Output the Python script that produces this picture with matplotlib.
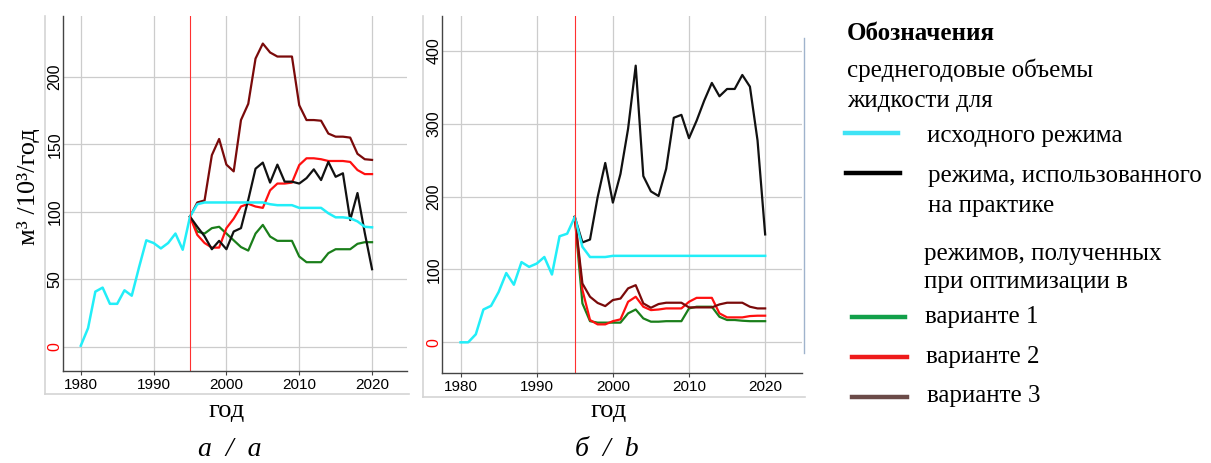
import matplotlib
matplotlib.use("Agg")
import matplotlib.pyplot as plt
from matplotlib.lines import Line2D
import numpy as np

W, H = 1211, 463

# годы
years_base = np.arange(1980, 2021)
years_opt = np.arange(1995, 2021)

# а: исходный режим, практика, варианты 1-3
base_a = [1, 14, 41, 44, 32, 32, 42, 38, 59, 79, 77, 73, 77, 84, 72, 96.5,
          105.7, 107, 107, 107, 107, 107, 107, 107, 107, 107, 105.7, 105, 105, 105,
          103, 103, 103, 103, 99, 96, 96, 95.3, 93, 89, 88.6]
practice_a = [96.5, 89, 82, 72.4, 78.6, 72.4, 85.5, 88, 109, 132, 136.5, 121.7, 135,
              122.4, 122.4, 121, 125, 131.5, 123.6, 137, 126, 128.6, 94, 114, 84.5, 57.6]
var1_a = [96.5, 85.5, 84, 88, 89, 84, 79, 74, 71.4, 84, 90.4, 81.8, 78.6, 78.6, 78.6,
          67, 62.8, 62.8, 62.8, 69.5, 72.4, 72.4, 72.4, 76.4, 77.6, 77.6]
var2_a = [96.5, 83, 77, 73.6, 73.6, 88, 95, 104, 106, 104, 103, 116, 121, 121, 121.7,
          134.7, 139.7, 139.7, 139, 137.7, 137.7, 137.7, 137, 131, 128, 128]
var3_a = [96.5, 107, 108.5, 142, 154, 135, 130, 168, 180, 213.5, 224.6, 218, 215, 215,
          215, 179, 168, 168, 167.5, 158, 155.7, 155.7, 155, 143, 139, 138.5]

# б
base_b = [0, 0, 11, 45, 50, 69, 95, 79, 110, 103.5, 108, 117, 93, 145.5, 149, 172,
          131, 117, 117, 117, 118.6, 118.6, 118.6, 118.6, 118.6, 118.6, 118.6, 118.6,
          118.6, 118.6, 118.6, 118.6, 118.6, 118.6, 118.6, 118.6, 118.6, 118.6, 118.6,
          118.6, 118.6]
practice_b = [172, 137, 141, 199, 246, 191.6, 231, 293, 379.5, 228, 207, 200.7, 238,
              308, 312, 280, 304, 331.6, 355.8, 337.5, 347.5, 347.5, 366.7, 350.7, 276.9, 148]
var1_b = [172, 53.4, 29, 27, 27, 27, 27, 39.7, 45, 32.8, 28.3, 28.3, 29, 29, 29, 46.5,
          48.8, 48.8, 48.8, 35, 30.6, 30.6, 29.6, 29, 29, 29]
var2_b = [172, 72, 30.6, 24.6, 24.6, 29, 31.5, 55.6, 62.5, 48.8, 44.2, 45, 46.5, 46.5,
          46.5, 55.6, 61, 61, 61, 39.7, 34.2, 34.2, 34.2, 36, 36.5, 36.5]
var3_b = [172, 80.7, 62.5, 54, 49.7, 58, 60, 74, 78.4, 53.4, 47.4, 52.5, 54.3, 54.3,
          54.3, 47.9, 47.9, 47.9, 47.9, 52, 54.3, 54.3, 54.3, 48.8, 46.5, 46.5]

start_year = 1995

C_BASE = "#22eef8"
C_PRACT = "#111111"
C_V1 = "#1a7e1a"
C_V2 = "#ff1010"
C_V3 = "#7a0a0a"

SERIF = ["Liberation Serif", "DejaVu Serif"]
SANS = ["Liberation Sans", "DejaVu Sans"]


def fx(px):
    return px / W


def fy(py):
    return 1 - py / H


fig = plt.figure(figsize=(W / 100, H / 100), dpi=100)


def panel(rect, base, practice, v1, v2, v3, ylim, yticks):
    ax = fig.add_axes(rect)
    ax.plot(years_opt, v1, color=C_V1, lw=1.6)
    ax.plot(years_opt, v2, color=C_V2, lw=1.6)
    ax.plot(years_opt, v3, color=C_V3, lw=1.6)
    ax.plot(years_opt, practice, color=C_PRACT, lw=1.6)
    ax.plot(years_base, base, color=C_BASE, lw=1.8)
    ax.axvline(start_year, color="#ff3030", lw=0.8)
    ax.set_xlim(1977.6, 2024.8)
    ax.set_ylim(*ylim)
    ax.set_xticks([1980, 1990, 2000, 2010, 2020])
    ax.set_yticks(yticks)
    ax.grid(True, color="#cccccc", lw=0.9)
    ax.set_axisbelow(True)
    for s in ("top", "right"):
        ax.spines[s].set_visible(False)
    for s in ("left", "bottom"):
        ax.spines[s].set_color("#444444")
        ax.spines[s].set_linewidth(1.0)
    ax.tick_params(axis="x", length=3, width=0.8, color="#444444", pad=2,
                   labelsize=11)
    ax.tick_params(axis="y", length=0, pad=0.5, labelsize=11.5)
    for lab in ax.get_xticklabels():
        lab.set_family(SANS)
    for lab, v in zip(ax.get_yticklabels(), yticks):
        lab.set_family(SANS)
        lab.set_rotation(90)
        lab.set_va("center")
        if v == 0:
            lab.set_color("red")
    return ax


ax_a = panel([fx(63.3), fy(370.7), fx(407) - fx(63.3), fy(16) - fy(370.7)],
             base_a, practice_a, var1_a, var2_a, var3_a, (-17.5, 245),
             [0, 50, 100, 150, 200])
ax_b = panel([fx(442.3), fy(373.3), fx(801.7) - fx(442.3), fy(16) - fy(373.3)],
             base_b, practice_b, var1_b, var2_b, var3_b, (-42.5, 447.6),
             [0, 100, 200, 300, 400])

# рамки панелей
frame = dict(color="#d4d4d4", lw=1.2, transform=fig.transFigure)
fig.add_artist(Line2D([fx(45), fx(45)], [fy(16), fy(394)], **frame))
fig.add_artist(Line2D([fx(45), fx(409)], [fy(394), fy(394)], **frame))
fig.add_artist(Line2D([fx(422.7), fx(422.7)], [fy(16), fy(396.5)], **frame))
fig.add_artist(Line2D([fx(422.7), fx(805)], [fy(396.5), fy(396.5)], **frame))
fig.add_artist(Line2D([fx(804.3), fx(804.3)], [fy(38), fy(353)], color="#9fb3cc",
                      lw=1.0, transform=fig.transFigure))

# подписи осей
fig.text(fx(28), fy(187), "м³ /10³/год", rotation=90, ha="center", va="center",
         family=SERIF, fontsize=19)
fig.text(fx(227), fy(417), "год", ha="center", va="baseline", family=SERIF, fontsize=19)
fig.text(fx(609), fy(417), "год", ha="center", va="baseline", family=SERIF, fontsize=19)
fig.text(fx(230), fy(456), "а  /  a", ha="center", va="baseline", family=SERIF,
         style="italic", fontsize=20)
fig.text(fx(607), fy(456), "б  /  b", ha="center", va="baseline", family=SERIF,
         style="italic", fontsize=20)

# легенда
leg_fs = 18
fig.text(fx(847), fy(40), "Обозначения", family=SERIF, weight="bold", fontsize=leg_fs,
         va="baseline")
fig.text(fx(847), fy(77.3), "среднегодовые объемы", family=SERIF, fontsize=leg_fs,
         va="baseline")
fig.text(fx(847), fy(107.3), "жидкости для", family=SERIF, fontsize=leg_fs, va="baseline")

legend_rows = [
    ("#3fe3f5", 845, 898, 133, 927, 141.7, "исходного режима"),
    ("#000000", 846, 900, 173, 928, 181.7, "режима, использованного"),
    ("#12a04a", 852, 905, 317, 925, 322.7, "варианте 1"),
    ("#ee1a1a", 852, 907, 357, 926, 362.7, "варианте 2"),
    ("#6b4b48", 852, 907, 397, 927, 401.7, "варианте 3"),
]
for color, x0, x1, ly, tx, ty, label in legend_rows:
    fig.add_artist(Line2D([fx(x0), fx(x1)], [fy(ly), fy(ly)], color=color, lw=3.2,
                          transform=fig.transFigure))
    fig.text(fx(tx), fy(ty), label, family=SERIF, fontsize=leg_fs, va="baseline")

fig.text(fx(928), fy(211.7), "на практике", family=SERIF, fontsize=leg_fs, va="baseline")
fig.text(fx(924), fy(260), "режимов, полученных", family=SERIF, fontsize=leg_fs,
         va="baseline")
fig.text(fx(924), fy(288.3), "при оптимизации в", family=SERIF, fontsize=leg_fs,
         va="baseline")

fig.savefig("out.png", dpi=100)
